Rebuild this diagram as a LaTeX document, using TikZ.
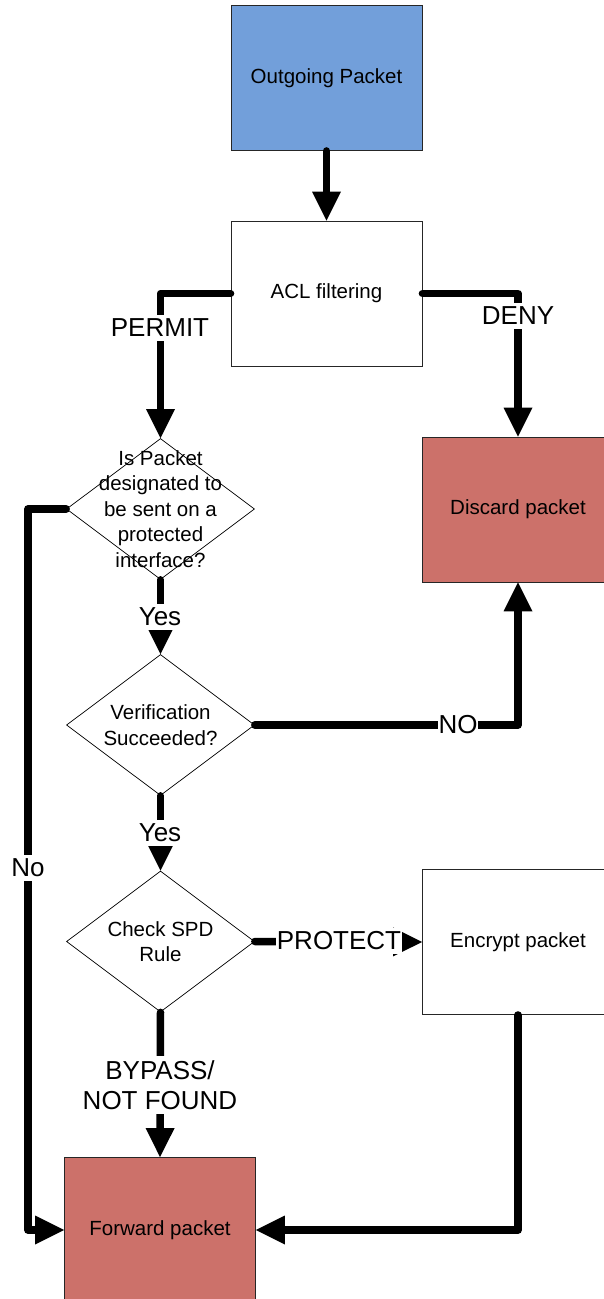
\documentclass[tikz,border=0pt]{standalone}
\usepackage{fontspec}
\setmainfont{Liberation Sans}
\usetikzlibrary{arrows.meta,shapes.geometric}
\definecolor{boxblue}{RGB}{114,159,218}
\definecolor{boxred}{RGB}{204,113,106}
\tikzset{
  box/.style={rectangle, draw=black!85, line width=0.9pt, minimum width=191pt, minimum height=145pt, inner sep=0pt, font=\fontsize{20.5}{25.5}\selectfont, align=center},
  decide/.style={diamond, draw=black, line width=0.7pt, minimum width=188pt, minimum height=141pt, inner sep=0pt},
  dtext/.style={font=\fontsize{20.5}{25.5}\selectfont, align=center, inner sep=0pt},
  conn/.style={line width=7.5pt, line cap=round, line join=round, -{Triangle[length=29pt,width=29pt,line width=0pt]}},
  lbl/.style={fill=white, inner xsep=0.5pt, inner ysep=4pt, font=\fontsize{26}{30}\selectfont, align=center}
}
\begin{document}
\begin{tikzpicture}[x=1pt,y=-1pt]
\useasboundingbox (0,0) rectangle (604,1299);
\clip (0,0) rectangle (604,1299);
% nodes
\node[box, fill=boxblue] (out) at (326.5,78) {Outgoing Packet};
\node[box, fill=white] (acl) at (326.5,293.5) {ACL filtering};
\node[decide] (d1) at (160.5,509) {};
\node[dtext] (d1t) at (d1) {Is Packet\\designated to\\be sent on a\\protected\\interface?};
\node[box, fill=boxred] (discard) at (518,509.5) {Discard packet};
\node[decide] (d2) at (160.5,725) {};
\node[dtext] (d2t) at (d2) {Verification\\Succeeded?};
\node[decide] (d3) at (160.5,941.5) {};
\node[dtext] (d3t) at (d3) {Check SPD\\Rule};
\node[box, fill=white] (enc) at (518,942) {Encrypt packet};
\node[box, fill=boxred] (fwd) at (160,1230) {Forward packet};
\coordinate (nocorner) at (28,509);
% connectors
\draw[conn] (out) -- (acl);
\draw[conn] (acl.west) -| (d1.north);
\draw[conn] (acl.east) -| (discard.north);
\draw[conn] (d1.south) -- (d2.north);
\draw[conn] (d2.east) -| (discard.south);
\draw[conn] (d2.south) -- (d3.north);
\draw[conn] (d3.east) -- (enc.west);
\draw[conn] (d3.south) -- (fwd.north);
\draw[conn] (enc.south) |- (fwd.east);
\draw[conn] (d1.west) -- (nocorner) |- (fwd.west);
% labels
\node[lbl] (lpermit) at (160,328) {PERMIT};
\node[lbl] (ldeny) at (518,316) {DENY};
\node[lbl] (lyes1) at (160,617) {Yes};
\node[lbl] (lyes2) at (160,833) {Yes};
\node[lbl] (lno) at (458,725) {NO};
\node[lbl] (lno2) at (28,868) {No};
\node[lbl] (lprot) at (339,941) {PROTECT};
\node[lbl] (lbypass) at (160,1085) {BYPASS/\\NOT FOUND};
\end{tikzpicture}
\end{document}
